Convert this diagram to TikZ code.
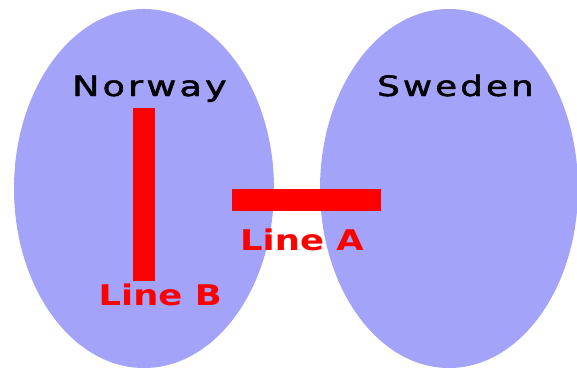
\documentclass[tikz,border=0pt]{standalone}
\usepackage{fontspec}
\setmainfont{DejaVu Sans}
\newfontfamily\widesans[LetterSpace=9,FakeBold=1.6]{DejaVu Sans}
\newfontfamily\widebold{DejaVu Sans Bold}
\definecolor{landblue}{RGB}{163,163,250}
\definecolor{borderred}{RGB}{255,0,0}
\tikzset{
  country/.style={fill=landblue},
  border/.style={fill=borderred},
  cname/.style={anchor=base west, inner sep=0pt, font=\widesans\fontsize{28}{28}\selectfont, text=black},
  lname/.style={anchor=base west, inner sep=0pt, font=\widebold\fontsize{28.5}{28.5}\selectfont, text=borderred}
}
\begin{document}
\begin{tikzpicture}[x=1pt,y=-1pt]
  \useasboundingbox (0,0) rectangle (577,369);
  % the two countries
  \fill[country] (144,188.5) ellipse [x radius=130, y radius=179.5];
  \fill[country] (449,188.5) ellipse [x radius=129, y radius=179.5];
  % border lines
  \fill[border] (133,108) rectangle (155,281);
  \fill[border] (232,189) rectangle (381,211);
  % labels
  \node[cname] (norway) at (72,96) {\scalebox{1.3}[1]{Norway}};
  \node[cname] (sweden) at (377,96) {\scalebox{1.27}[1]{Sweden}};
  \node[lname] (lineA) at (240,250.7) {\scalebox{1.24}[1]{Line A}};
  \node[lname] (lineB) at (98.5,305) {\scalebox{1.24}[1]{Line B}};
\end{tikzpicture}
\end{document}
